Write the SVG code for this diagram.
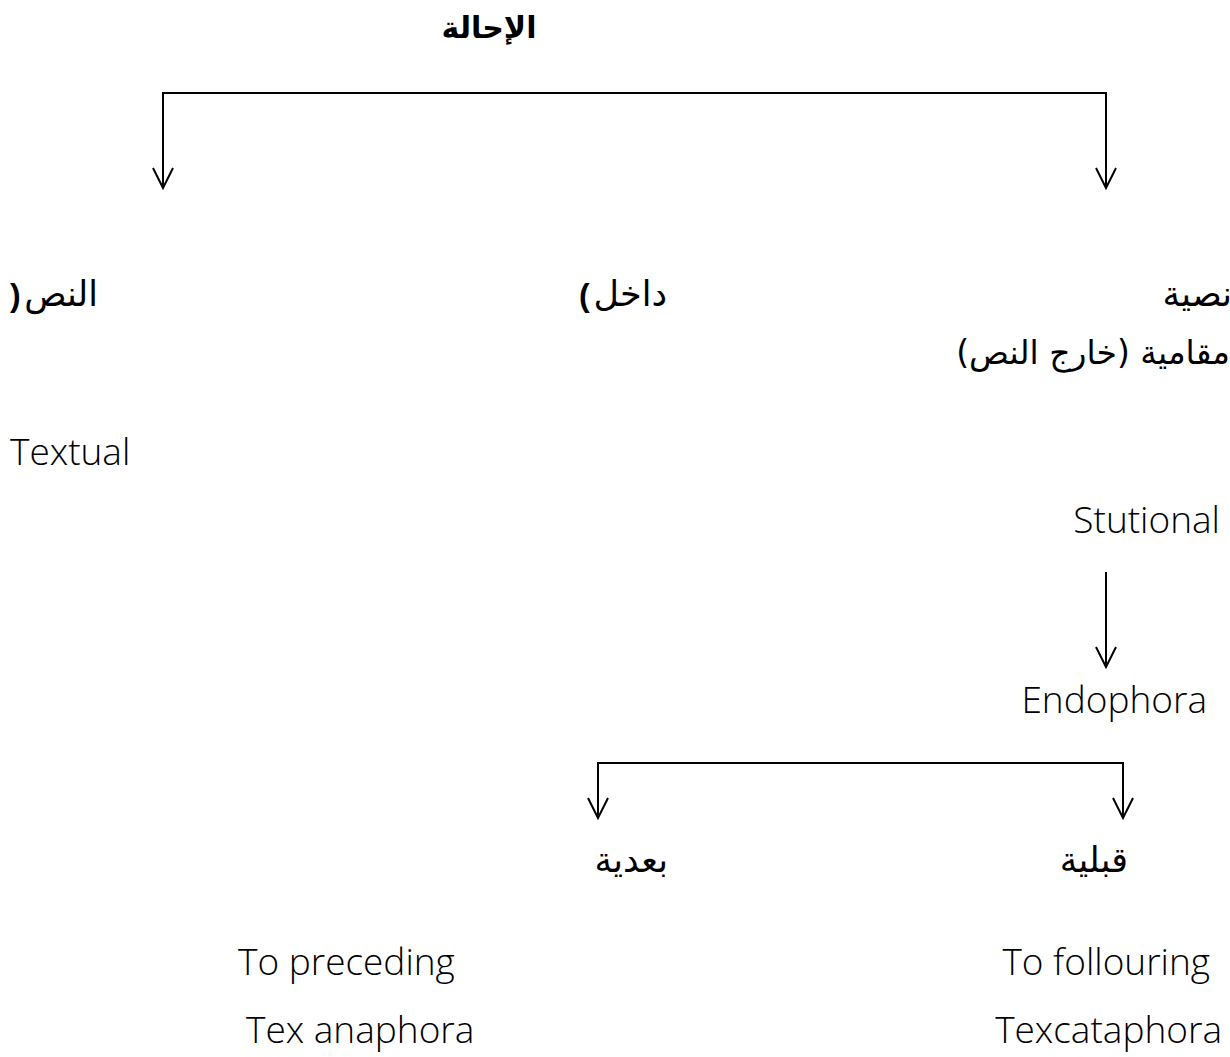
<svg xmlns="http://www.w3.org/2000/svg" width="1230" height="1057" viewBox="0 0 1230 1057">
<style>
.en{font-family:"Open Sans","Liberation Sans",sans-serif;font-weight:300;font-size:37px;fill:#000}
.ar{font-family:"DejaVu Sans","Noto Sans",sans-serif;font-size:35px;fill:#000}
.arb{font-family:"DejaVu Sans","Noto Sans",sans-serif;font-size:30px;font-weight:bold;fill:#000}
.pr{font-family:"Liberation Sans",Arial,sans-serif;font-size:32px;font-weight:bold;fill:#000}
.ln{stroke:#000;stroke-width:2;fill:none}
</style>
<defs>
<marker id="ah" viewBox="0 0 24 24" refX="22" refY="12" markerWidth="24" markerHeight="24" markerUnits="userSpaceOnUse" orient="auto-start-reverse">
<path d="M2,2 L22,12 L2,22" fill="none" stroke="#000" stroke-width="2"/>
</marker>
</defs>
<g id="connectors">
<polyline class="ln" points="163,188 163,93 1106,93 1106,188" marker-start="url(#ah)" marker-end="url(#ah)"/>
<line class="ln" x1="1106" y1="572" x2="1106" y2="667" marker-end="url(#ah)"/>
<polyline class="ln" points="598,818 598,763 1123,763 1123,818" marker-start="url(#ah)" marker-end="url(#ah)"/>
</g>
<g id="root"><text class="arb" x="489" y="38" text-anchor="middle">الإحالة</text></g>
<g id="textual-ar">
<text class="ar" x="1232" y="306" text-anchor="end">نصية</text>
<text class="pr" x="579" y="306">(</text>
<text class="ar" x="667" y="306" text-anchor="end">داخل</text>
<text class="pr" x="10" y="306">)</text>
<text class="ar" x="98" y="306" text-anchor="end">النص</text>
</g>
<g id="situational-ar"><text class="ar" x="1230" y="364" text-anchor="end" direction="ltr" style="font-size:33px">مقامية (خارج النص)</text></g>
<g id="textual-en"><text class="en" x="10" y="465">Textual</text></g>
<g id="situational-en"><text class="en" x="1220" y="533" text-anchor="end">Stutional</text></g>
<g id="endophora"><text class="en" x="1207" y="713" text-anchor="end">Endophora</text></g>
<g id="anaphora">
<text class="ar" x="668" y="872" text-anchor="end">بعدية</text>
<text class="en" x="238" y="975">To preceding</text>
<text class="en" x="246" y="1043">Tex anaphora</text>
</g>
<g id="cataphora">
<text class="ar" x="1128" y="872" text-anchor="end">قبلية</text>
<text class="en" x="1210" y="975" text-anchor="end">To follouring</text>
<text class="en" x="1222" y="1043" text-anchor="end">Texcataphora</text>
</g>
</svg>
